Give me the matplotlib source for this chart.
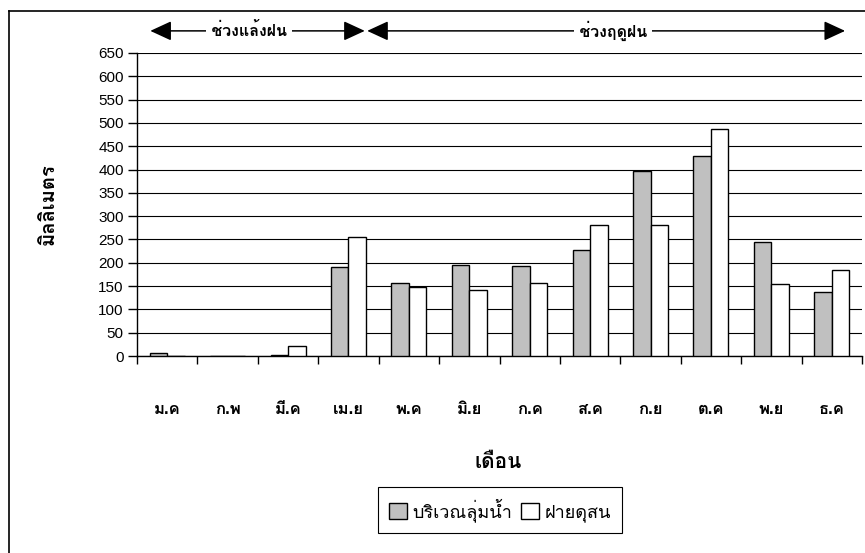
import matplotlib
matplotlib.use("Agg")
import matplotlib.pyplot as plt
import numpy as np
from matplotlib.lines import Line2D
from matplotlib.patches import Patch

plt.rcParams['font.family'] = ['Liberation Sans', 'Loma', 'DejaVu Sans']

months = ['ม.ค', 'ก.พ', 'มี.ค', 'เม.ย', 'พ.ค', 'มิ.ย', 'ก.ค', 'ส.ค', 'ก.ย', 'ต.ค', 'พ.ย', 'ธ.ค']
basin = [6, 0, 3, 190, 156, 196, 194, 228, 396, 428, 245, 138]
fai_dusoan = [0, 0, 22, 256, 147, 141, 156, 280, 280, 487, 154, 185]
series_names = ['บริเวณลุ่มน้ำ', 'ฝายดุสน']

# season spans in month-index units: (label, start, end, label centre)
seasons = [('ช่วงแล้งฝน', -0.28, 3.27, 1.35),
           ('ช่วงฤดูฝน', 3.31, 11.22, 7.38)]

W, H = 865, 553
fig = plt.figure(figsize=(W / 100, H / 100), dpi=100)
ax = fig.add_axes([137 / W, 1 - 356 / H, 725 / W, 303 / H])

x = np.arange(len(months))
bw = 0.29
ax.bar(x - bw / 2, basin, bw, color='#c0c0c0', edgecolor='black', linewidth=1.0, zorder=3)
ax.bar(x + bw / 2, fai_dusoan, bw, color='white', edgecolor='black', linewidth=1.0, zorder=3)

ax.set_xlim(-0.5, len(months) - 0.5)
ax.set_ylim(0, 650)
ax.set_yticks(np.arange(0, 651, 50))
ax.yaxis.grid(True, color='black', linewidth=0.8, zorder=0)
ax.tick_params(axis='y', length=6.5, width=1, pad=3, labelsize=11)

ax.set_xticks(x)
ax.set_xticklabels(months, fontsize=12, fontweight='bold')
ax.tick_params(axis='x', which='major', length=0, pad=33)
ax.set_xticks(np.arange(-0.5, len(months)), minor=True)
ax.tick_params(axis='x', which='minor', length=6, width=1, direction='out')

for s in ['top', 'right']:
    ax.spines[s].set_visible(False)
for s in ['left', 'bottom']:
    ax.spines[s].set_linewidth(1.0)

ax.set_ylabel('มิลลิเมตร', fontsize=14.5, fontweight='bold')
ax.yaxis.set_label_coords(-0.11, 0.5)

fig.text(498 / W, 1 - 462 / H, 'เดือน', fontsize=15, fontweight='bold', ha='center', va='center')

# season arrows above the plot
yarr = 1.073
for name, x0, x1, xc in seasons:
    ax.annotate('', xy=(x1, yarr), xytext=(x0, yarr),
                xycoords=('data', 'axes fraction'), textcoords=('data', 'axes fraction'),
                arrowprops=dict(arrowstyle='<|-|>,head_length=0.65,head_width=0.3',
                                color='black', lw=1.1, shrinkA=0, shrinkB=0,
                                mutation_scale=20),
                annotation_clip=False)
    ax.text(xc, yarr, ' ' + name + ' ', transform=ax.get_xaxis_transform(),
            ha='center', va='center', fontsize=11.5, fontweight='bold',
            bbox=dict(facecolor='white', edgecolor='none', pad=0.5), zorder=5)

handles = [Patch(facecolor='#c0c0c0', edgecolor='black', linewidth=1.0),
           Patch(facecolor='white', edgecolor='black', linewidth=1.0)]
leg = fig.legend(handles, series_names, loc='center', bbox_to_anchor=(500 / W, 1 - 510 / H),
                 ncol=2, fontsize=13, frameon=True, fancybox=False, shadow=False,
                 handlelength=1.0, handleheight=1.0, handletextpad=0.3, columnspacing=0.5,
                 borderpad=0.6, edgecolor='black', framealpha=1)
leg.get_frame().set_linewidth(0.8)

# outer chart frame
fig.add_artist(Line2D([9 / W, 9 / W], [1 - 11 / H, 0], transform=fig.transFigure,
                      color='black', linewidth=1.2))
fig.add_artist(Line2D([9 / W, 1], [1 - 11 / H, 1 - 11 / H], transform=fig.transFigure,
                      color='black', linewidth=1.2))

fig.savefig('out.png', dpi=100)
